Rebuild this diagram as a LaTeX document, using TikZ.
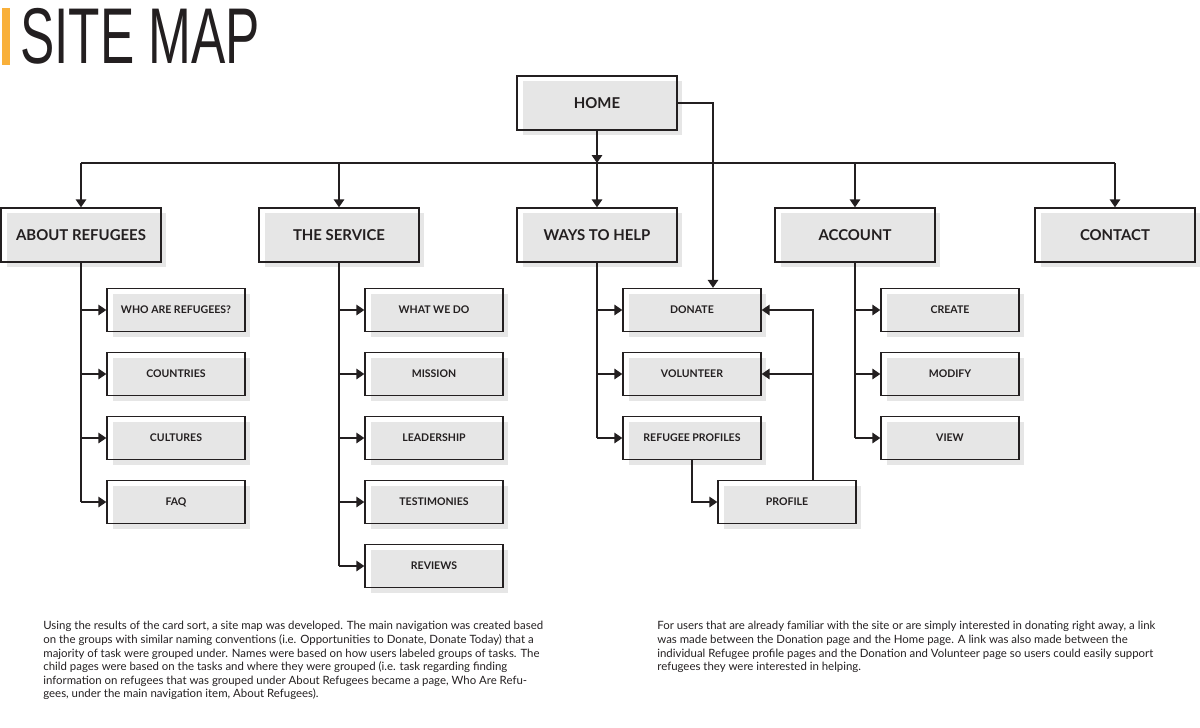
\documentclass[tikz,border=0pt]{standalone}
\usepackage{fontspec}
\setmainfont{Lato}
\newfontfamily\titlefont{Liberation Sans}
\usetikzlibrary{arrows.meta,shadows}

\definecolor{ink}{HTML}{231F20}
\definecolor{boxgray}{HTML}{E6E6E6}
\definecolor{accent}{HTML}{F9B03A}

\begin{document}
\begin{tikzpicture}[x=0.02cm,y=-0.02cm,
  mainbox/.style={draw=ink,line width=0.8pt,minimum width=3.2cm,minimum height=1.08cm,text=ink,
    font=\bfseries\fontsize{8.5}{10}\selectfont,
    drop shadow={fill=boxgray,opacity=1,shadow xshift=0.11cm,shadow yshift=-0.1cm}},
  subbox/.style={mainbox,minimum width=2.76cm,minimum height=0.86cm,font=\bfseries\fontsize{6}{7}\selectfont},
  link/.style={draw=ink,line width=0.7pt},
  tip/.style={-{Triangle[length=4.5pt,width=6pt]}},
  notes/.style={anchor=north west,inner sep=0,align=left,text=ink,font=\fontsize{6.5}{7.75}\selectfont}]

\useasboundingbox (0,0) rectangle (1200,727);

% title
\fill [accent] (2,8) rectangle (10,65);
\node [anchor=south west,inner sep=0,text=ink] (title) at (20,65) {\scalebox{0.65}[1]{\titlefont\fontsize{45}{45}\selectfont SITE MAP}};

% main navigation
\node [mainbox] (home) at (597,103) {HOME};
\node [mainbox] (about) at (81,235) {ABOUT REFUGEES};
\node [mainbox] (service) at (339,235) {THE SERVICE};
\node [mainbox] (help) at (597,235) {WAYS TO HELP};
\node [mainbox] (account) at (855,235) {ACCOUNT};
\node [mainbox] (contact) at (1115,235) {CONTACT};

% child pages
\node [subbox] (who) at (176,310) {WHO ARE REFUGEES?};
\node [subbox] (countries) at (176,374) {COUNTRIES};
\node [subbox] (cultures) at (176,438) {CULTURES};
\node [subbox] (faq) at (176,502) {FAQ};

\node [subbox] (whatwedo) at (434,310) {WHAT WE DO};
\node [subbox] (mission) at (434,374) {MISSION};
\node [subbox] (leadership) at (434,438) {LEADERSHIP};
\node [subbox] (testimonies) at (434,502) {TESTIMONIES};
\node [subbox] (reviews) at (434,566) {REVIEWS};

\node [subbox] (donate) at (692,310) {DONATE};
\node [subbox] (volunteer) at (692,374) {VOLUNTEER};
\node [subbox] (profiles) at (692,438) {REFUGEE PROFILES};
\node [subbox] (profile) at (787,502) {PROFILE};

\node [subbox] (create) at (950,310) {CREATE};
\node [subbox] (modify) at (950,374) {MODIFY};
\node [subbox] (view) at (950,438) {VIEW};

% connectors
\coordinate (bus) at (0,163);
\coordinate (homelink) at (713,0);
\coordinate (backlink) at (813,0);

\draw [link,tip] (home.south) -- (home.south |- bus);
\draw [link] (about.north |- bus) -- (contact.north |- bus);
\foreach \n in {about,service,help,account,contact}
  \draw [link,tip] (\n.north |- bus) -- (\n.north);

\draw [link] (about.south) -- (about.south |- faq);
\foreach \c in {who,countries,cultures,faq}
  \draw [link,tip] (about.south |- \c) -- (\c.west);

\draw [link] (service.south) -- (service.south |- reviews);
\foreach \c in {whatwedo,mission,leadership,testimonies,reviews}
  \draw [link,tip] (service.south |- \c) -- (\c.west);

\draw [link] (help.south) -- (help.south |- profiles);
\foreach \c in {donate,volunteer,profiles}
  \draw [link,tip] (help.south |- \c) -- (\c.west);

\draw [link] (account.south) -- (account.south |- view);
\foreach \c in {create,modify,view}
  \draw [link,tip] (account.south |- \c) -- (\c.west);

\draw [link,tip] (home.east) -| (donate.north -| homelink);
\draw [link,tip] (profiles.south) |- (profile.west);
\draw [link,tip] (profile.north -| backlink) |- (donate.east);
\draw [link,tip] (backlink |- volunteer.east) -- (volunteer.east);

% notes
\node [notes] (notesleft) at (43,621) {Using the results of the card sort, a site map was developed. The main navigation was created based\\
on the groups with similar naming conventions (i.e. Opportunities to Donate, Donate Today) that a\\
majority of task were grouped under. Names were based on how users labeled groups of tasks. The\\
child pages were based on the tasks and where they were grouped (i.e. task regarding finding\\
information on refugees that was grouped under About Refugees became a page, Who Are Refu-\\
gees, under the main navigation item, About Refugees).};
\node [notes] (notesright) at (657,621) {For users that are already familiar with the site or are simply interested in donating right away, a link\\
was made between the Donation page and the Home page. A link was also made between the\\
individual Refugee profile pages and the Donation and Volunteer page so users could easily support\\
refugees they were interested in helping.};

\end{tikzpicture}
\end{document}
